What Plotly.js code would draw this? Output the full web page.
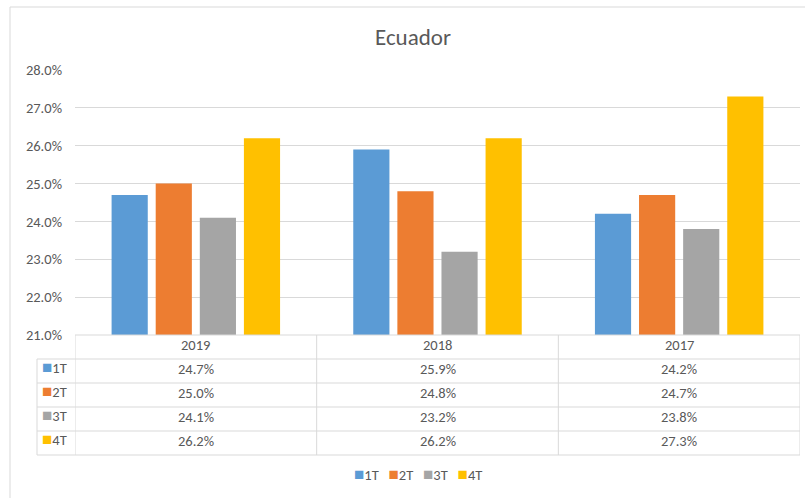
<!DOCTYPE html>
<html>
<head>
<meta charset="utf-8">
<script src="https://cdn.plot.ly/plotly-3.0.1.min.js"></script>
<style>
  html, body { margin: 0; padding: 0; background: #fff; }
  #chart { width: 805px; height: 498px; }
</style>
</head>
<body>
<div id="chart"></div>
<script>
// Quarterly values per year (percent)
const years = ['2019', '2018', '2017'];
const seriesNames = ['1T', '2T', '3T', '4T'];
const seriesColors = ['#5B9BD5', '#ED7D31', '#A5A5A5', '#FFC000'];
const q1 = [24.7, 25.9, 24.2];
const q2 = [25.0, 24.8, 24.7];
const q3 = [24.1, 23.2, 23.8];
const q4 = [26.2, 26.2, 27.3];
const seriesValues = [q1, q2, q3, q4];

const FONT = 'Carlito, Calibri, "Liberation Sans Narrow", "Open Sans", sans-serif';
const TEXT = '#595959';
const GRID = '#D9D9D9';
const FS = 14.5;

// table geometry in paper units (plot height 265px)
const rowH = 24 / 265;
const tableLeft = (37 - 75) / 725;
const nRows = seriesNames.length + 1;

const data = seriesNames.map((name, i) => ({
    type: 'bar',
    name: name,
    x: years,
    y: seriesValues[i],
    marker: { color: seriesColors[i] },
    hoverinfo: 'x+y+name'
}));

const shapes = [];
const annotations = [];

// outer chart border
shapes.push({ type: 'rect', xref: 'paper', yref: 'paper', x0: (10 - 75) / 725, x1: (806 - 75) / 725,
    y0: -0.7, y1: (335 - 7) / 265, line: { color: GRID, width: 1 } });

// horizontal table lines
shapes.push({ type: 'line', xref: 'paper', yref: 'paper', x0: 0, x1: 1, y0: 0, y1: 0, line: { color: GRID, width: 1 } });
for (let r = 1; r <= nRows; r++) {
    shapes.push({ type: 'line', xref: 'paper', yref: 'paper', x0: tableLeft, x1: 1,
        y0: -r * rowH, y1: -r * rowH, line: { color: GRID, width: 1 } });
}
// vertical table lines at category boundaries
[-0.5, 0.5, 1.5, 2.5].forEach(xv => {
    shapes.push({ type: 'line', xref: 'x', yref: 'paper', x0: xv, x1: xv, y0: 0, y1: -nRows * rowH,
        line: { color: GRID, width: 1 } });
});
shapes.push({ type: 'line', xref: 'paper', yref: 'paper', x0: tableLeft, x1: tableLeft, y0: -rowH, y1: -nRows * rowH,
    line: { color: GRID, width: 1 } });

// header cells (x given as category index)
years.forEach((yr, j) => {
    annotations.push({ x: j, xref: 'x', y: -0.5 * rowH, yref: 'paper', yshift: -9, text: yr, showarrow: false,
        font: { family: FONT, size: FS, color: TEXT } });
});
// body cells and row labels
seriesNames.forEach((name, i) => {
    const yy = -(i + 1.5) * rowH;
    annotations.push({ x: tableLeft + 0.004, xref: 'paper', xanchor: 'left', y: yy, yref: 'paper', yshift: -9,
        text: `<span style="color:${seriesColors[i]};font-size:17px">■</span>${name}`, showarrow: false,
        font: { family: FONT, size: FS, color: TEXT } });
    years.forEach((yr, j) => {
        annotations.push({ x: j, xref: 'x', y: yy, yref: 'paper', yshift: -9, text: seriesValues[i][j].toFixed(1) + '%',
            showarrow: false, font: { family: FONT, size: FS, color: TEXT } });
    });
});
// legend row
annotations.push({ x: (418 - 75) / 725, xref: 'paper', y: (335 - 477) / 265, yref: 'paper', yshift: -10, showarrow: false,
    text: seriesNames.map((s, i) => `<span style="color:${seriesColors[i]};font-size:17px">■</span>${s}`).join('   '),
    font: { family: FONT, size: FS, color: TEXT } });

const layout = {
    width: 805,
    height: 498,
    paper_bgcolor: '#fff',
    plot_bgcolor: '#fff',
    font: { family: FONT, color: TEXT },
    margin: { t: 70, r: 5, b: 163, l: 75 },
    title: { text: 'Ecuador', x: 0.513, xanchor: 'center', y: 0.925, yanchor: 'middle',
        font: { family: FONT, size: 23, color: TEXT } },
    showlegend: false,
    barmode: 'group',
    bargap: 0.27,
    bargroupgap: 0.18,
    xaxis: { type: 'category', range: [-0.5, 2.5], showticklabels: false, showgrid: false, zeroline: false, showline: false },
    yaxis: { range: [21, 28], dtick: 1, tickformat: '.1f', ticksuffix: '%', gridcolor: GRID, zeroline: false,
        showline: false, ticks: '', ticklabelstandoff: 12, tickfont: { family: FONT, size: FS, color: TEXT } },
    shapes: shapes,
    annotations: annotations
};

Plotly.newPlot('chart', data, layout, { displayModeBar: false, responsive: false });
</script>
</body>
</html>
